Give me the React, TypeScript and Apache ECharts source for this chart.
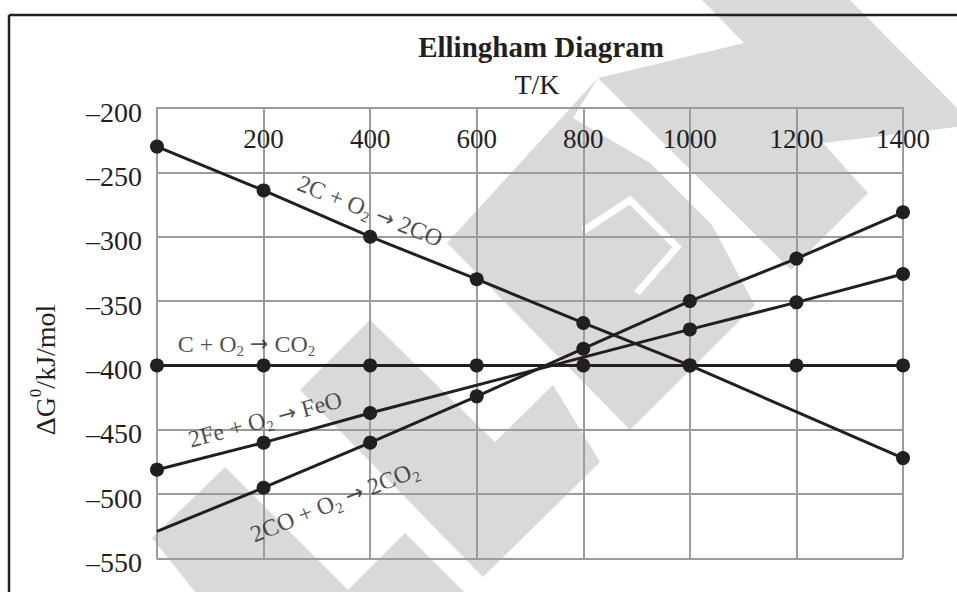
import React, { useEffect, useRef } from "react";
import * as echarts from "echarts";

const xTicks = [0, 200, 400, 600, 800, 1000, 1200, 1400];
const yMin = -550;
const yMax = -200;

// 2C + O2 -> 2CO
const lineCO: number[][] = [[0, -230], [200, -264], [400, -300], [600, -333], [800, -367], [1000, -400], [1400, -472]];
// C + O2 -> CO2
const lineCCO2: number[][] = [[0, -400], [200, -400], [400, -400], [600, -400], [800, -400], [1000, -400], [1200, -400], [1400, -400]];
// 2Fe + O2 -> FeO
const lineFeO: number[][] = [[0, -481], [200, -460], [400, -437], [1000, -372], [1200, -351], [1400, -329]];
// 2CO + O2 -> 2CO2
const lineCOCO2: number[][] = [[0, -529], [200, -495], [400, -460], [600, -424], [800, -387], [1000, -350], [1200, -317], [1400, -281]];

const reactionLabels = [
  { text: "{n|2C + O}{s|2}{n| }{a|→}{n| 2CO}", x: 400, y: -280, rotate: -22 },
  { text: "{n|C + O}{s|2}{n| }{a|→}{n| CO}{s|2}", x: 168, y: -383, rotate: 0 },
  { text: "{n|2Fe + O}{s|2}{n| }{a|→}{n| FeO}", x: 203, y: -442, rotate: 15 },
  { text: "{n|2CO + O}{s|2}{n| }{a|→}{n| 2CO}{s|2}", x: 333, y: -506, rotate: 22 },
];

const FONT = "'Liberation Serif', 'Times New Roman', serif";
const INK = "#231f20";
const GRIDC = "#9b9b9b";
const WM = "#d9d9d9";

// watermark shapes (decoration)
const wmPolys: number[][][] = [
  [[447, 243], [598, 78], [744, 43], [702, 0], [850, 0], [957, 108], [957, 127], [823, 143], [868, 193], [630, 430]],
  [[300, 390], [370, 320], [495, 442], [553, 385], [600, 462], [483, 577]],
  [[152, 538], [225, 467], [348, 590], [405, 533], [470, 598], [200, 598]],
];
const wmWhite: number[][][] = [
  [[573, 118], [598, 78], [791, 270], [755, 306], [712, 225], [650, 163]],
];
const wmStroke: number[][] = [[583, 231], [630, 200], [677, 247], [637, 293]];

export default function App() {
  const ref = useRef<HTMLDivElement>(null);
  useEffect(() => {
    if (!ref.current) return;
    const chart = echarts.init(ref.current, null, { renderer: "svg" });
    const lineSeries = (name: string, data: number[][], noFirstSymbol = false) => ({
      name,
      type: "line",
      data: data.map((d, i) => (noFirstSymbol && i === 0 ? { value: d, symbol: "none" } : d)),
      symbol: "circle",
      symbolSize: 14,
      lineStyle: { color: INK, width: 3 },
      itemStyle: { color: INK },
      z: 3,
    });
    const graphics: any[] = [];
    wmPolys.forEach((p) =>
      graphics.push({ type: "polygon", z: -10, silent: true, shape: { points: p }, style: { fill: WM } })
    );
    wmWhite.forEach((p) =>
      graphics.push({ type: "polygon", z: -9, silent: true, shape: { points: p }, style: { fill: "#ffffff" } })
    );
    graphics.push({ type: "polyline", z: -9, silent: true, shape: { points: wmStroke }, style: { stroke: "#ffffff", lineWidth: 7, fill: null } });
    // frame
    graphics.push({ type: "line", z: 5, shape: { x1: 9, y1: 15, x2: 957, y2: 15 }, style: { stroke: INK, lineWidth: 2.5 } });
    graphics.push({ type: "line", z: 5, shape: { x1: 9, y1: 15, x2: 9, y2: 592 }, style: { stroke: INK, lineWidth: 2.5 } });
    graphics.push({
      type: "text", z: 5, x: 541, y: 47,
      style: { text: "Ellingham Diagram", font: `bold 29px ${FONT}`, fill: INK, align: "center", verticalAlign: "middle" },
    });
    graphics.push({
      type: "text", z: 5, x: 537, y: 84,
      style: { text: "T/K", font: `28px ${FONT}`, fill: INK, align: "center", verticalAlign: "middle" },
    });
    graphics.push({
      type: "text", z: 5, x: 43, y: 370, rotation: Math.PI / 2,
      style: {
        text: "{a|ΔG}{b|0}{a|/kJ/mol}",
        align: "center", verticalAlign: "middle", fill: INK,
        rich: {
          a: { fontFamily: FONT, fontSize: 28, lineHeight: 32, verticalAlign: "bottom", fill: INK },
          b: { fontFamily: FONT, fontSize: 17, lineHeight: 32, verticalAlign: "top", fill: INK },
        },
      },
    });

    const option: any = {
      animation: false,
      backgroundColor: "#ffffff",
      grid: { left: 157, top: 108, right: 54, bottom: 33.5, containLabel: false },
      xAxis: {
        type: "value",
        position: "top",
        min: xTicks[0],
        max: xTicks[xTicks.length - 1],
        interval: 200,
        axisLine: { show: true, lineStyle: { color: GRIDC, width: 2 } },
        axisTick: { show: false },
        axisLabel: {
          inside: true,
          margin: 17,
          fontFamily: FONT,
          fontSize: 27,
          color: INK,
          formatter: (v: number) => (v === 0 ? "" : String(v)),
        },
        splitLine: { show: true, lineStyle: { color: GRIDC, width: 2 } },
      },
      yAxis: {
        type: "value",
        min: yMin,
        max: yMax,
        interval: 50,
        axisLine: { show: true, lineStyle: { color: GRIDC, width: 2 } },
        axisTick: { show: false },
        axisLabel: {
          margin: 15,
          fontFamily: FONT,
          fontSize: 28,
          color: INK,
          formatter: (v: number) => "{v|" + String(v).replace("-", "–") + "}",
          rich: { v: { fontFamily: FONT, fontSize: 28, color: INK, padding: [8, 0, 0, 0] } },
        },
        splitLine: { show: true, lineStyle: { color: GRIDC, width: 2 } },
      },
      graphic: graphics,
      series: [
        lineSeries("2C + O2 → 2CO", lineCO),
        lineSeries("C + O2 → CO2", lineCCO2),
        lineSeries("2Fe + O2 → FeO", lineFeO),
        lineSeries("2CO + O2 → 2CO2", lineCOCO2, true),
        {
          type: "scatter",
          symbol: "circle",
          symbolSize: 1,
          itemStyle: { color: "rgba(0,0,0,0)" },
          silent: true,
          z: 4,
          data: reactionLabels.map((l) => ({
            value: [l.x, l.y],
            label: {
              show: true,
              position: "inside",
              rotate: l.rotate,
              formatter: l.text,
              color: INK,
              textBorderWidth: 0,
              fontFamily: FONT,
              fontSize: 24,
              rich: {
                n: { fontFamily: FONT, fontSize: 24, lineHeight: 30, verticalAlign: "middle", color: INK, textBorderWidth: 0 },
                a: { fontFamily: "'DejaVu Sans', sans-serif", fontSize: 22, lineHeight: 30, verticalAlign: "middle", color: INK, textBorderWidth: 0 },
                s: { fontFamily: FONT, fontSize: 15, lineHeight: 30, verticalAlign: "bottom", color: INK, textBorderWidth: 0 },
              },
            },
          })),
        },
      ],
    };
    chart.setOption(option);
    return () => chart.dispose();
  }, []);
  return <div ref={ref} style={{ position: "absolute", left: 0, top: 0, width: 957, height: 592 }} />;
}
